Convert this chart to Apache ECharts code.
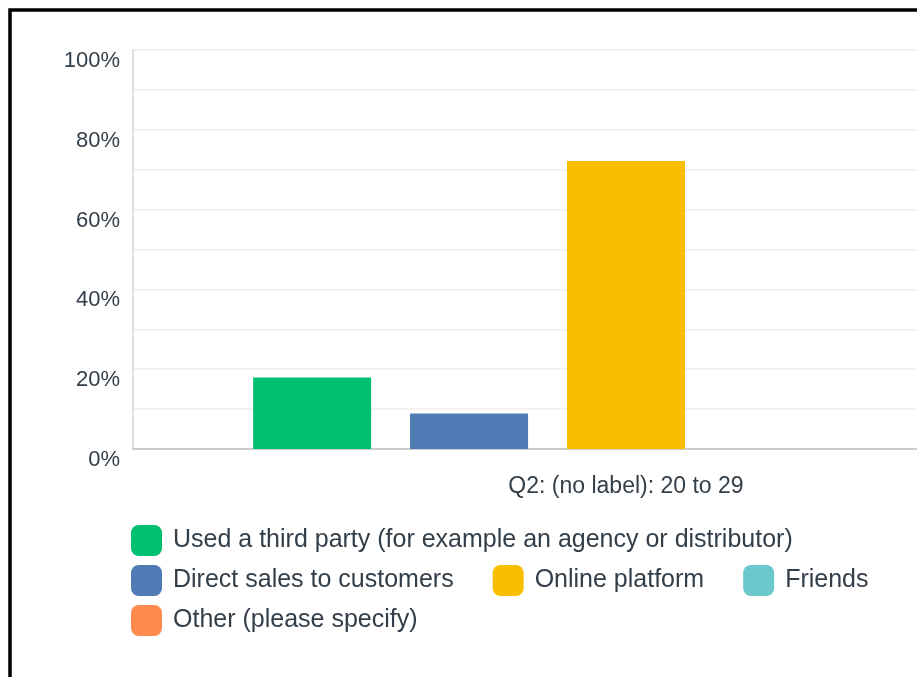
<!DOCTYPE html>
<html>
<head>
<meta charset="utf-8">
<title>Q2 channels, age 20 to 29</title>
<script src="https://cdn.jsdelivr.net/npm/echarts@6/dist/echarts.min.js"></script>
<style>
  html, body { margin: 0; padding: 0; background: #fff; }
  #chart { width: 917px; height: 677px; }
</style>
</head>
<body>
<div id="chart"></div>
<script>
// Category on the x axis
const categories = ['Q2: (no label): 20 to 29'];

// Answer options (one bar series each) and their colours
const seriesNames = [
  'Used a third party (for example an agency or distributor)',
  'Direct sales to customers',
  'Online platform',
  'Friends',
  'Other (please specify)'
];
const seriesColors = ['#00bf6f', '#507cb6', '#f9be00', '#6bc8cd', '#ff8b4f'];

// Share of respondents, percent
const seriesValues = [
  [17.9],
  [8.9],
  [72.2],
  [0],
  [0]
];

// Legend rows (indices into seriesNames)
const legendRows = [[0], [1, 2, 3], [4]];

// Y axis range and tick spacing (labels every 20%)
const yMin = 0, yMax = 100, yStep = 10, yLabelStep = 20;

const textColor = '#333e48';
const fontFamily = '"Liberation Sans", Arial, Helvetica, sans-serif';

const chart = echarts.init(document.getElementById('chart'), null, { renderer: 'canvas' });

function legendRow(rowIdx) {
  return {
    left: 131,
    top: 525 + rowIdx * 40,
    padding: 0,
    orient: 'horizontal',
    itemWidth: 31,
    itemHeight: 31,
    itemGap: 39,
    icon: 'roundRect',
    selectedMode: false,
    formatter: function (name) { return '{t|' + name + '}'; },
    textStyle: {
      color: textColor,
      fontSize: 25,
      fontFamily: fontFamily,
      rich: {
        t: {
          color: textColor,
          fontSize: 25,
          fontFamily: fontFamily,
          padding: [0, 0, 0, 6]
        }
      }
    },
    data: legendRows[rowIdx].map(function (i) { return seriesNames[i]; })
  };
}

const option = {
  animation: false,
  backgroundColor: '#ffffff',
  textStyle: { fontFamily: fontFamily },
  graphic: [{
    type: 'rect',
    silent: true,
    z: 100,
    shape: { x: 10, y: 10, width: 1400, height: 1400 },
    style: { fill: null, stroke: '#000000', lineWidth: 3.5 }
  }],
  // The plot runs past the right edge of the frame, so the single
  // category is centred well to the right of the visible middle.
  grid: {
    left: 133,
    top: 50,
    right: -202,
    bottom: 228,
    containLabel: false,
    outerBoundsMode: 'none'
  },
  xAxis: {
    type: 'category',
    data: categories,
    axisTick: { show: false },
    axisLine: { show: true, lineStyle: { color: '#cccccc', width: 2 } },
    axisLabel: {
      color: textColor,
      fontSize: 23,
      fontFamily: fontFamily,
      margin: 26
    },
    splitLine: { show: false }
  },
  yAxis: {
    type: 'value',
    min: yMin,
    max: yMax,
    interval: yStep,
    axisLine: { show: true, lineStyle: { color: '#d6d6d6', width: 1.5 } },
    axisTick: { show: false },
    splitLine: { show: true, lineStyle: { color: '#ececec', width: 1.5 } },
    axisLabel: {
      color: textColor,
      fontSize: 22,
      fontFamily: fontFamily,
      margin: 13,
      verticalAlign: 'top',
      formatter: function (v) {
        return (v % yLabelStep === 0) ? v + '%' : '';
      }
    }
  },
  legend: legendRows.map(function (_, r) { return legendRow(r); }),
  series: seriesNames.map(function (name, i) {
    return {
      name: name,
      type: 'bar',
      data: seriesValues[i],
      barWidth: 118,
      barGap: '33%',
      itemStyle: { color: seriesColors[i] }
    };
  })
};

chart.setOption(option);
</script>
</body>
</html>
